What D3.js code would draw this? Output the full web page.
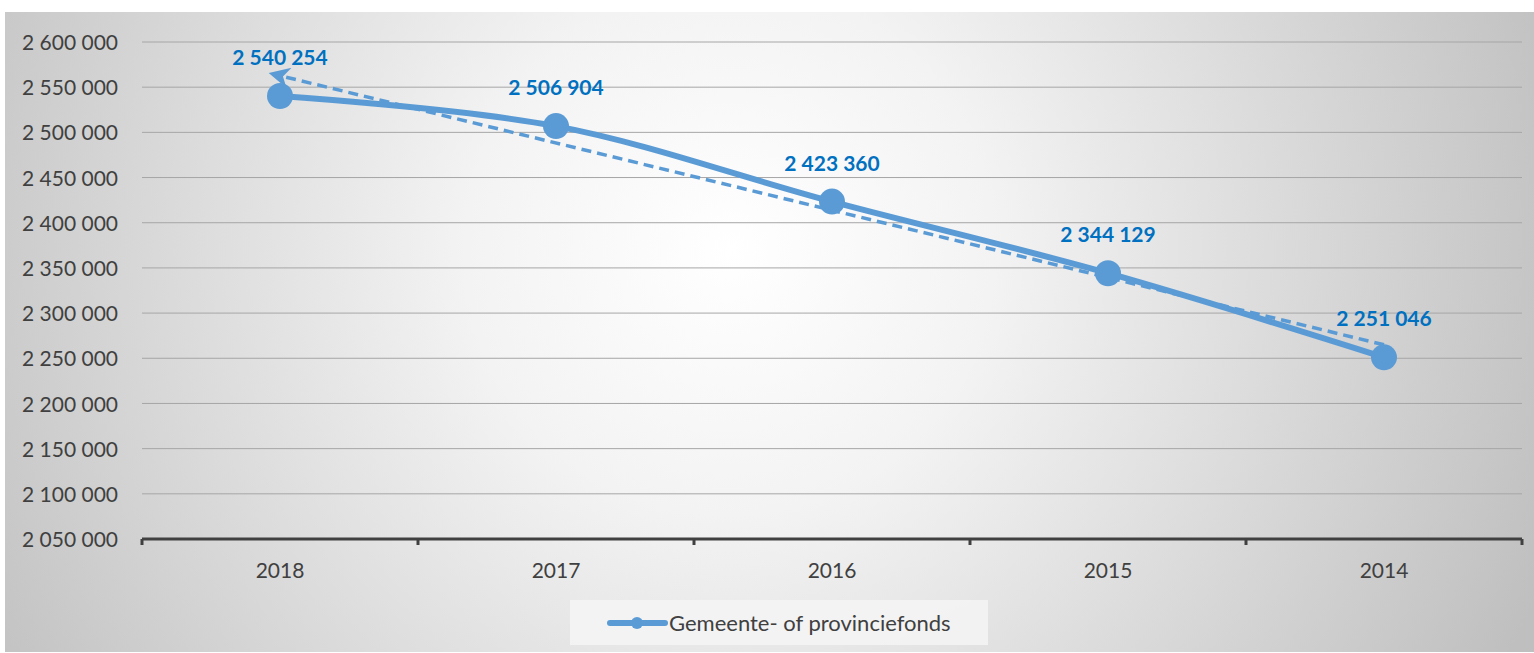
<!DOCTYPE html>
<html><head><meta charset="utf-8">
<script src="https://cdn.jsdelivr.net/npm/d3@7"></script>
<style>body{margin:0;background:#fff;} svg{display:block;}</style>
</head><body>
<svg id="chart" width="1534" height="653"></svg>
<script>
const categories = ["2018","2017","2016","2015","2014"];
const values = [2540254, 2506904, 2423360, 2344129, 2251046];
const labels = ["2 540 254","2 506 904","2 423 360","2 344 129","2 251 046"];
const yTicks = [2050000,2100000,2150000,2200000,2250000,2300000,2350000,2400000,2450000,2500000,2550000,2600000];
const seriesName = "Gemeente- of provinciefonds";

const svg = d3.select("#chart");
const defs = svg.append("defs");
const grad = defs.append("radialGradient").attr("id","bg")
  .attr("gradientUnits","userSpaceOnUse").attr("cx",730).attr("cy",250).attr("r",880);
grad.append("stop").attr("offset","0").attr("stop-color","#ffffff");
grad.append("stop").attr("offset","0.3").attr("stop-color","#f3f3f3");
grad.append("stop").attr("offset","1").attr("stop-color","#bfbfbf");

defs.append("marker").attr("id","arrow").attr("viewBox","0 0 10 10")
  .attr("refX",2).attr("refY",5).attr("markerWidth",7).attr("markerHeight",6)
  .attr("orient","auto-start-reverse").attr("markerUnits","strokeWidth")
  .append("path").attr("d","M0,0 L10,5 L0,10 L3,5 Z").attr("fill","#5b9bd5");

svg.append("rect").attr("x",5).attr("y",12).attr("width",1529).attr("height",640).attr("fill","url(#bg)");

const x = d3.scaleBand().domain(categories).range([142,1522]);
const y = d3.scaleLinear().domain([2050000,2600000]).range([539,42]);
const font = "Lato, 'Open Sans', sans-serif";

// gridlines
svg.append("g").selectAll("line").data(yTicks.slice(1)).join("line")
  .attr("x1",142).attr("x2",1522).attr("y1",d=>y(d)).attr("y2",d=>y(d))
  .attr("stroke","#a6a6a6").attr("stroke-width",1);

// y axis labels
const yAxis = d3.axisLeft(y).tickValues(yTicks).tickSize(0).tickPadding(0)
  .tickFormat(d=>d3.format(",")(d).replace(/,/g," "));
const gy = svg.append("g").attr("transform","translate(118,0)").call(yAxis);
gy.select(".domain").remove();
gy.selectAll("text").attr("font-family",font).attr("font-size",21).attr("fill","#404040").attr("dy","0.36em");

// x axis
const xAxis = d3.axisBottom(x).tickSize(0).tickPadding(0);
const gx = svg.append("g").attr("transform","translate(0,539)").call(xAxis);
gx.select(".domain").remove();
gx.selectAll("text").attr("font-family",font).attr("font-size",21).attr("fill","#404040").attr("y",39).attr("dy",0);
svg.append("line").attr("x1",142).attr("x2",1522).attr("y1",539).attr("y2",539).attr("stroke","#404040").attr("stroke-width",3);
const bounds = categories.map(c=>x(c)).concat([x.range()[1]]);
svg.append("g").selectAll("line").data(bounds).join("line")
  .attr("x1",d=>d).attr("x2",d=>d).attr("y1",539).attr("y2",545)
  .attr("stroke","#404040").attr("stroke-width",3);

const cx = c => x(c) + x.bandwidth()/2;

// trendline (linear regression)
const n = values.length;
const idx = d3.range(n);
const mx = d3.mean(idx), my = d3.mean(values);
const slope = d3.sum(idx,i=>(i-mx)*(values[i]-my))/d3.sum(idx,i=>(i-mx)*(i-mx));
const icpt = my - slope*mx;
svg.append("line")
  .attr("x1",cx(categories[n-1])).attr("y1",y(icpt+slope*(n-1)))
  .attr("x2",cx(categories[0])+5).attr("y2",y(icpt))
  .attr("stroke","#5b9bd5").attr("stroke-width",3.5).attr("stroke-dasharray","10,6")
  .attr("marker-end","url(#arrow)");

// main line
const line = d3.line().x((d,i)=>cx(categories[i])).y(d=>y(d)).curve(d3.curveCatmullRom.alpha(0.5));
svg.append("path").datum(values).attr("d",line).attr("fill","none")
  .attr("stroke","#5b9bd5").attr("stroke-width",6).attr("stroke-linecap","round");
svg.append("g").selectAll("circle").data(values).join("circle")
  .attr("cx",(d,i)=>cx(categories[i])).attr("cy",d=>y(d)).attr("r",13).attr("fill","#5b9bd5");

// data labels
svg.append("g").selectAll("text").data(values).join("text")
  .attr("x",(d,i)=>cx(categories[i])).attr("y",d=>y(d)-31)
  .attr("text-anchor","middle").attr("font-family",font).attr("font-size",21).attr("font-weight","bold")
  .attr("fill","#0070c0").text((d,i)=>labels[i]);

// legend
const lg = svg.append("g");
lg.append("rect").attr("x",570).attr("y",600).attr("width",418).attr("height",45).attr("fill","#f5f5f5").attr("opacity",0.85);
lg.append("line").attr("x1",610).attr("x2",665).attr("y1",623).attr("y2",623).attr("stroke","#5b9bd5").attr("stroke-width",6).attr("stroke-linecap","round");
lg.append("circle").attr("cx",637).attr("cy",623).attr("r",6).attr("fill","#5b9bd5");
lg.append("text").attr("x",669).attr("y",631).attr("font-family",font).attr("font-size",22).attr("fill","#404040").text(seriesName);
</script>
</body></html>
